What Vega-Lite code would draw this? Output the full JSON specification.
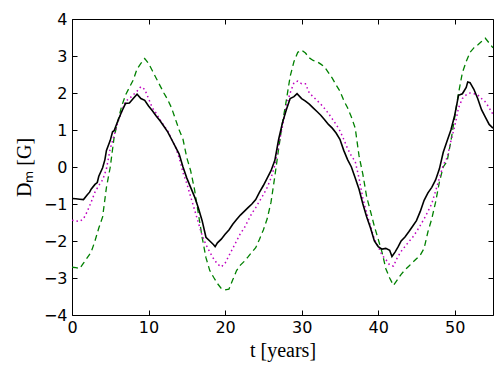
{
  "$schema": "https://vega.github.io/schema/vega-lite/v6.json",
  "autosize": {"type": "none"},
  "padding": {"left": 72, "top": 19, "right": 11, "bottom": 63},
  "width": 421,
  "height": 296,
  "datasets": {
    "black": [
      {"t":0,"D":-0.85},{"t":0.5,"D":-0.86},{"t":1,"D":-0.87},{"t":1.5,"D":-0.88},{"t":2,"D":-0.75},{"t":2.3,"D":-0.68},{"t":2.5,"D":-0.6},{"t":3,"D":-0.47},{"t":3.3,"D":-0.42},{"t":3.5,"D":-0.25},{"t":4,"D":-0.02},{"t":4.3,"D":0.2},{"t":4.5,"D":0.45},{"t":5,"D":0.72},{"t":5.3,"D":0.95},{"t":5.5,"D":0.98},{"t":6,"D":1.25},{"t":6.5,"D":1.5},{"t":7,"D":1.72},{"t":7.5,"D":1.73},{"t":8,"D":1.85},{"t":8.5,"D":1.97},{"t":9,"D":1.85},{"t":9.5,"D":1.8},{"t":10,"D":1.65},{"t":10.5,"D":1.52},{"t":11,"D":1.38},{"t":11.5,"D":1.25},{"t":12,"D":1.1},{"t":12.5,"D":0.95},{"t":13,"D":0.75},{"t":13.5,"D":0.55},{"t":14,"D":0.35},{"t":14.5,"D":0.0},{"t":15,"D":-0.3},{"t":15.5,"D":-0.55},{"t":16,"D":-0.8},{"t":16.5,"D":-1.1},{"t":17,"D":-1.45},{"t":17.5,"D":-1.9},{"t":18,"D":-2.0},{"t":18.5,"D":-2.1},{"t":18.7,"D":-2.15},{"t":19,"D":-2.05},{"t":19.5,"D":-1.95},{"t":20,"D":-1.82},{"t":20.5,"D":-1.7},{"t":21,"D":-1.55},{"t":21.5,"D":-1.42},{"t":22,"D":-1.3},{"t":22.5,"D":-1.2},{"t":23,"D":-1.1},{"t":23.5,"D":-1.0},{"t":24,"D":-0.88},{"t":24.5,"D":-0.68},{"t":25,"D":-0.5},{"t":25.5,"D":-0.3},{"t":26,"D":-0.1},{"t":26.5,"D":0.18},{"t":27,"D":0.75},{"t":27.5,"D":1.2},{"t":28,"D":1.55},{"t":28.5,"D":1.85},{"t":29,"D":1.9},{"t":29.4,"D":1.98},{"t":30,"D":1.85},{"t":30.5,"D":1.78},{"t":31,"D":1.7},{"t":31.5,"D":1.6},{"t":32,"D":1.5},{"t":32.5,"D":1.4},{"t":33,"D":1.28},{"t":33.5,"D":1.15},{"t":34,"D":1.05},{"t":34.5,"D":0.92},{"t":35,"D":0.75},{"t":35.5,"D":0.45},{"t":36,"D":0.2},{"t":36.5,"D":0.0},{"t":37,"D":-0.3},{"t":37.5,"D":-0.6},{"t":38,"D":-1.0},{"t":38.5,"D":-1.35},{"t":39,"D":-1.65},{"t":39.5,"D":-2.0},{"t":40,"D":-2.15},{"t":40.5,"D":-2.22},{"t":41,"D":-2.2},{"t":41.5,"D":-2.25},{"t":41.8,"D":-2.42},{"t":42.2,"D":-2.3},{"t":42.6,"D":-2.16},{"t":43,"D":-2.0},{"t":43.5,"D":-1.89},{"t":44,"D":-1.75},{"t":44.5,"D":-1.6},{"t":45,"D":-1.45},{"t":45.5,"D":-1.2},{"t":46,"D":-0.9},{"t":46.5,"D":-0.7},{"t":47,"D":-0.55},{"t":47.5,"D":-0.35},{"t":48,"D":-0.05},{"t":48.5,"D":0.4},{"t":49,"D":0.7},{"t":49.5,"D":1.0},{"t":50,"D":1.4},{"t":50.5,"D":1.94},{"t":51,"D":1.98},{"t":51.5,"D":2.15},{"t":51.7,"D":2.3},{"t":52,"D":2.28},{"t":52.5,"D":2.1},{"t":53,"D":1.85},{"t":53.5,"D":1.55},{"t":54,"D":1.35},{"t":54.5,"D":1.15},{"t":55,"D":1.05}
    ],
    "magenta": [
      {"t":0,"D":-1.44},{"t":1,"D":-1.47},{"t":1.5,"D":-1.4},{"t":2,"D":-1.2},{"t":2.5,"D":-0.95},{"t":3,"D":-0.68},{"t":3.5,"D":-0.5},{"t":4,"D":-0.35},{"t":4.5,"D":-0.05},{"t":5,"D":0.5},{"t":5.5,"D":0.85},{"t":6,"D":1.22},{"t":6.5,"D":1.5},{"t":7,"D":1.78},{"t":7.5,"D":1.85},{"t":8,"D":1.95},{"t":8.5,"D":2.05},{"t":9,"D":2.17},{"t":9.5,"D":2.1},{"t":10,"D":1.85},{"t":10.5,"D":1.6},{"t":11,"D":1.45},{"t":11.5,"D":1.28},{"t":12,"D":1.12},{"t":12.5,"D":0.98},{"t":13,"D":0.75},{"t":13.5,"D":0.55},{"t":14,"D":0.25},{"t":14.5,"D":-0.15},{"t":15,"D":-0.45},{"t":15.5,"D":-0.8},{"t":16,"D":-1.15},{"t":16.5,"D":-1.5},{"t":17,"D":-1.85},{"t":17.5,"D":-2.1},{"t":18,"D":-2.3},{"t":18.5,"D":-2.48},{"t":19,"D":-2.62},{"t":19.5,"D":-2.7},{"t":20,"D":-2.6},{"t":20.5,"D":-2.4},{"t":21,"D":-2.2},{"t":21.5,"D":-2.0},{"t":22,"D":-1.8},{"t":22.5,"D":-1.65},{"t":23,"D":-1.45},{"t":23.5,"D":-1.25},{"t":24,"D":-1.1},{"t":24.5,"D":-0.92},{"t":25,"D":-0.75},{"t":25.5,"D":-0.55},{"t":26,"D":-0.3},{"t":26.5,"D":0.05},{"t":27,"D":0.6},{"t":27.5,"D":1.1},{"t":28,"D":1.65},{"t":28.5,"D":2.0},{"t":29,"D":2.28},{"t":29.5,"D":2.32},{"t":30,"D":2.25},{"t":30.5,"D":2.25},{"t":31,"D":2.0},{"t":31.5,"D":1.9},{"t":32,"D":1.8},{"t":32.5,"D":1.7},{"t":33,"D":1.58},{"t":33.5,"D":1.45},{"t":34,"D":1.3},{"t":34.5,"D":1.15},{"t":35,"D":0.98},{"t":35.5,"D":0.75},{"t":36,"D":0.5},{"t":36.5,"D":0.3},{"t":37,"D":0.15},{"t":37.5,"D":-0.3},{"t":38,"D":-0.85},{"t":38.5,"D":-1.25},{"t":39,"D":-1.6},{"t":39.5,"D":-1.95},{"t":40,"D":-2.15},{"t":40.5,"D":-2.38},{"t":41,"D":-2.5},{"t":41.5,"D":-2.65},{"t":42,"D":-2.68},{"t":42.5,"D":-2.45},{"t":43,"D":-2.28},{"t":43.5,"D":-2.15},{"t":44,"D":-2.02},{"t":44.5,"D":-1.9},{"t":45,"D":-1.75},{"t":45.5,"D":-1.58},{"t":46,"D":-1.4},{"t":46.5,"D":-1.2},{"t":47,"D":-0.99},{"t":47.5,"D":-0.65},{"t":48,"D":-0.3},{"t":48.5,"D":0.05},{"t":49,"D":0.25},{"t":49.5,"D":0.7},{"t":50,"D":1.1},{"t":50.5,"D":1.6},{"t":51,"D":1.85},{"t":51.5,"D":1.95},{"t":52,"D":2.0},{"t":52.5,"D":1.98},{"t":53,"D":1.95},{"t":53.5,"D":1.85},{"t":54,"D":1.76},{"t":54.5,"D":1.6},{"t":55,"D":1.42}
    ],
    "green": [
      {"t":0,"D":-2.71},{"t":0.5,"D":-2.72},{"t":1,"D":-2.75},{"t":1.5,"D":-2.6},{"t":2,"D":-2.45},{"t":2.5,"D":-2.3},{"t":3,"D":-2.0},{"t":3.5,"D":-1.65},{"t":4,"D":-1.35},{"t":4.5,"D":-0.55},{"t":5,"D":0.0},{"t":5.5,"D":0.8},{"t":6,"D":1.25},{"t":6.5,"D":1.65},{"t":7,"D":1.95},{"t":7.5,"D":2.15},{"t":8,"D":2.35},{"t":8.5,"D":2.65},{"t":9,"D":2.8},{"t":9.5,"D":2.93},{"t":10,"D":2.8},{"t":10.5,"D":2.6},{"t":11,"D":2.4},{"t":11.5,"D":2.2},{"t":12,"D":2.0},{"t":12.5,"D":1.82},{"t":13,"D":1.6},{"t":13.5,"D":1.3},{"t":14,"D":1.0},{"t":14.5,"D":0.75},{"t":15,"D":0.25},{"t":15.5,"D":-0.1},{"t":16,"D":-0.6},{"t":16.5,"D":-1.25},{"t":17,"D":-1.9},{"t":17.5,"D":-2.45},{"t":18,"D":-2.8},{"t":18.5,"D":-2.98},{"t":19,"D":-3.15},{"t":19.5,"D":-3.28},{"t":20,"D":-3.32},{"t":20.5,"D":-3.3},{"t":21,"D":-3.05},{"t":21.5,"D":-2.8},{"t":22,"D":-2.65},{"t":22.5,"D":-2.55},{"t":23,"D":-2.43},{"t":23.5,"D":-2.3},{"t":24,"D":-2.18},{"t":24.5,"D":-1.95},{"t":25,"D":-1.7},{"t":25.5,"D":-1.4},{"t":26,"D":-0.95},{"t":26.5,"D":-0.25},{"t":27,"D":0.5},{"t":27.5,"D":1.2},{"t":28,"D":1.8},{"t":28.5,"D":2.45},{"t":29,"D":2.85},{"t":29.5,"D":3.1},{"t":30,"D":3.16},{"t":30.5,"D":3.08},{"t":31,"D":2.95},{"t":31.5,"D":2.88},{"t":32,"D":2.85},{"t":32.5,"D":2.78},{"t":33,"D":2.7},{"t":33.5,"D":2.55},{"t":34,"D":2.4},{"t":34.5,"D":2.22},{"t":35,"D":2.05},{"t":35.5,"D":1.8},{"t":36,"D":1.6},{"t":36.5,"D":1.35},{"t":37,"D":1.05},{"t":37.5,"D":0.3},{"t":38,"D":-0.2},{"t":38.5,"D":-0.81},{"t":39,"D":-1.2},{"t":39.5,"D":-1.6},{"t":40,"D":-1.95},{"t":40.5,"D":-2.3},{"t":41,"D":-2.75},{"t":41.5,"D":-3.0},{"t":42,"D":-3.2},{"t":42.5,"D":-3.05},{"t":43,"D":-2.9},{"t":43.5,"D":-2.78},{"t":44,"D":-2.68},{"t":44.5,"D":-2.58},{"t":45,"D":-2.48},{"t":45.5,"D":-2.38},{"t":46,"D":-2.2},{"t":46.5,"D":-1.75},{"t":47,"D":-1.4},{"t":47.5,"D":-0.95},{"t":48,"D":-0.4},{"t":48.5,"D":0.0},{"t":49,"D":0.15},{"t":49.5,"D":0.7},{"t":50,"D":1.35},{"t":50.5,"D":2.0},{"t":51,"D":2.55},{"t":51.5,"D":2.85},{"t":52,"D":3.1},{"t":52.5,"D":3.22},{"t":53,"D":3.3},{"t":53.5,"D":3.39},{"t":54,"D":3.48},{"t":54.5,"D":3.35},{"t":55,"D":3.22}
    ]
  },
  "layer": [
    {
      "data": {"name": "green"},
      "mark": {"type": "line", "color": "#008000", "strokeWidth": 1.3, "strokeDash": [6, 4], "clip": true},
      "encoding": {
        "x": {"field": "t", "type": "quantitative", "scale": {"domain": [0, 55], "nice": false},
              "axis": {"orient": "bottom", "values": [0,10,20,30,40,50], "title": "t [years]", "titlePadding": 5, "labelPadding": 9, "labelFlush": false}},
        "y": {"field": "D", "type": "quantitative", "scale": {"domain": [-4, 4], "nice": false},
              "axis": {"orient": "left", "values": [-4,-3,-2,-1,0,1,2,3,4], "title": "Dₘ [G]", "titlePadding": 9, "labelPadding": 10, "labelFlush": false}}
      }
    },
    {
      "data": {"name": "magenta"},
      "mark": {"type": "line", "color": "#bf00bf", "strokeWidth": 1.5, "strokeDash": [1.5, 3], "clip": true},
      "encoding": {
        "x": {"field": "t", "type": "quantitative", "scale": {"domain": [0, 55], "nice": false},
              "axis": {"orient": "top", "values": [0,10,20,30,40,50], "labels": false, "title": null}},
        "y": {"field": "D", "type": "quantitative", "scale": {"domain": [-4, 4], "nice": false},
              "axis": {"orient": "right", "values": [-4,-3,-2,-1,0,1,2,3,4], "labels": false, "title": null}}
      }
    },
    {
      "data": {"name": "black"},
      "mark": {"type": "line", "color": "#000000", "strokeWidth": 1.6, "clip": true},
      "encoding": {
        "x": {"field": "t", "type": "quantitative", "scale": {"domain": [0, 55], "nice": false}, "axis": null},
        "y": {"field": "D", "type": "quantitative", "scale": {"domain": [-4, 4], "nice": false}, "axis": null}
      }
    }
  ],
  "resolve": {"axis": {"x": "independent", "y": "independent"}},
  "config": {
    "view": {"stroke": "black", "strokeWidth": 1},
    "axis": {
      "grid": false,
      "domain": false,
      "ticks": true,
      "tickColor": "black",
      "tickSize": -5,
      "tickWidth": 1,
      "labelFont": "DejaVu Sans",
      "labelFontSize": 16,
      "labelColor": "black",
      "titleFont": "Liberation Serif",
      "titleFontSize": 20,
      "titleFontWeight": "normal",
      "titleColor": "black"
    }
  }
}
